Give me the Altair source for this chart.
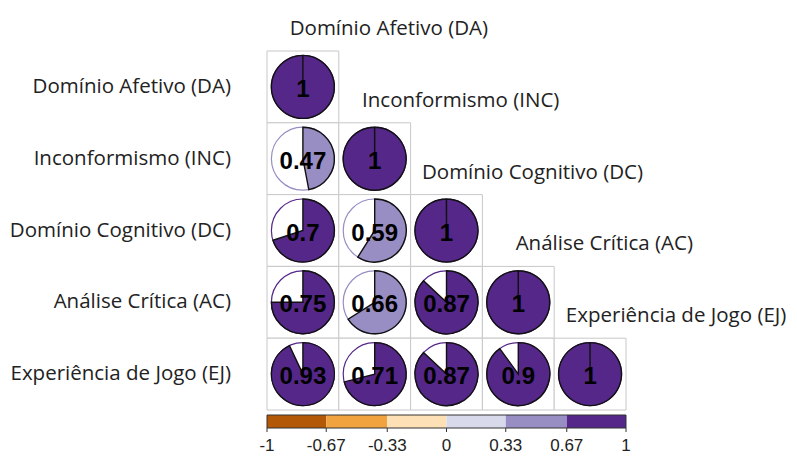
import math
import altair as alt
import pandas as pd

# Variables (rows top-to-bottom, columns left-to-right)
variables = [
    "Domínio Afetivo (DA)",
    "Inconformismo (INC)",
    "Domínio Cognitivo (DC)",
    "Análise Crítica (AC)",
    "Experiência de Jogo (EJ)",
]

# Lower triangle of the correlation matrix, diagonal included
corr_lower = [
    [1],
    [0.47, 1],
    [0.70, 0.59, 1],
    [0.75, 0.66, 0.87, 1],
    [0.93, 0.71, 0.87, 0.90, 1],
]

# Colour bins (PuOr, 6 classes)
bin_breaks = [-1, -0.67, -0.33, 0, 0.33, 0.67, 1]
bin_colors = ["#B35806", "#F1A340", "#FEE0B6", "#D8DAEB", "#998EC3", "#542788"]
bar_labels = ["-1", "-0.67", "-0.33", "0", "0.33", "0.67", "1"]

# ---- layout constants (pixels) ----
CELL = 71.8
N = len(variables)
W = CELL * N
PIE_R = 31.5
LEFT, TOP = 267, 51
WIN_W, WIN_H = 797, 457
LABEL_FONT = "Open Sans"
LABEL_SIZE = 20.5

rows = []
for i, row in enumerate(corr_lower):
    for j, r in enumerate(row):
        rows.append({"row": i, "col": j, "r": r, "lbl": format(r, "g")})
cells = pd.DataFrame(rows)

labels_df = pd.DataFrame({"name": variables, "idx": list(range(N))})

bar_df = pd.DataFrame({"lo": bin_breaks[:-1], "hi": bin_breaks[1:]})
tick_df = pd.DataFrame({"v": bin_breaks, "lbl": bar_labels})

xs = alt.Scale(domain=[0, N], range=[0, W])
ys = alt.Scale(domain=[0, N], range=[0, W])
color_scale = alt.Scale(type="threshold", domain=bin_breaks[1:-1], range=bin_colors)

base = alt.Chart(cells).transform_calculate(
    x0="datum.col", x1="datum.col + 1",
    y0="datum.row", y1="datum.row + 1",
    cx="datum.col + 0.5", cy="datum.row + 0.5",
    t0="0",
    tfull="2 * PI",
    t1="min(datum.r, 0.9995) * 2 * PI",
)

X = alt.X("cx:Q", scale=xs, axis=None)
Y = alt.Y("cy:Q", scale=ys, axis=None)

grid = base.mark_rect(fill="white", stroke="#c8c8c8", strokeWidth=1).encode(
    x=alt.X("x0:Q", scale=xs, axis=None),
    x2="x1:Q",
    y=alt.Y("y0:Q", scale=ys, axis=None),
    y2="y1:Q",
)

pie_bg = base.mark_arc(radius=PIE_R, fill="white", strokeWidth=1.2).encode(
    x=X, y=Y,
    theta=alt.Theta("t0:Q", scale=None, stack=None),
    theta2="tfull:Q",
    stroke=alt.Stroke("r:Q", scale=color_scale, legend=None),
)

pie = base.mark_arc(radius=PIE_R, stroke="#111111", strokeWidth=1.4).encode(
    x=X, y=Y,
    theta=alt.Theta("t0:Q", scale=None, stack=None),
    theta2="t1:Q",
    fill=alt.Fill("r:Q", scale=color_scale, legend=None),
)

values = base.mark_text(
    font="Liberation Sans", fontWeight="bold", fontSize=24,
    color="black", baseline="middle", dy=3,
).encode(x=X, y=Y, text="lbl:N")

lab_base = alt.Chart(labels_df).transform_calculate(c="datum.idx + 0.5")

row_labels = lab_base.mark_text(
    font=LABEL_FONT, fontSize=LABEL_SIZE, color="#222222", align="right", baseline="middle",
).encode(
    x=alt.value(231 - LEFT),
    y=alt.Y("c:Q", scale=ys, axis=None),
    text="name:N",
)

col_labels = lab_base.mark_text(
    font=LABEL_FONT, fontSize=LABEL_SIZE, color="#222222", align="center", baseline="middle",
    dx=86, dy=-58,
).encode(
    x=alt.X("c:Q", scale=xs, axis=None),
    y=alt.Y("c:Q", scale=ys, axis=None),
    text="name:N",
)

# ---- colour bar ----
BAR_TOP, BAR_BOT = 415 - TOP, 428 - TOP
HALF = N / 2

bar = alt.Chart(bar_df).transform_calculate(
    bx0="(datum.lo + 1) * %f" % HALF,
    bx1="(datum.hi + 1) * %f" % HALF,
    mid="(datum.lo + datum.hi) / 2",
).mark_rect().encode(
    x=alt.X("bx0:Q", scale=xs, axis=None),
    x2="bx1:Q",
    y=alt.value(BAR_TOP),
    y2=alt.value(BAR_BOT),
    fill=alt.Fill("mid:Q", scale=color_scale, legend=None),
)

bar_frame = alt.Chart(pd.DataFrame({"a": [-1], "b": [1]})).transform_calculate(
    bx0="(datum.a + 1) * %f" % HALF,
    bx1="(datum.b + 1) * %f" % HALF,
).mark_rect(fill=None, stroke="#333333", strokeWidth=1).encode(
    x=alt.X("bx0:Q", scale=xs, axis=None),
    x2="bx1:Q",
    y=alt.value(BAR_TOP),
    y2=alt.value(BAR_BOT),
)

tick_base = alt.Chart(tick_df).transform_calculate(bx="(datum.v + 1) * %f" % HALF)

ticks = tick_base.mark_rule(color="#333333", strokeWidth=1).encode(
    x=alt.X("bx:Q", scale=xs, axis=None),
    y=alt.value(BAR_BOT),
    y2=alt.value(BAR_BOT + 4),
)

tick_labels = tick_base.mark_text(
    font="Liberation Sans", fontSize=17, color="#222222", align="center", baseline="top",
).encode(
    x=alt.X("bx:Q", scale=xs, axis=None),
    y=alt.value(438 - TOP),
    text="lbl:N",
)

chart = alt.layer(
    grid, pie_bg, pie, values, row_labels, col_labels,
    bar, bar_frame, ticks, tick_labels,
).properties(
    width=W,
    height=W,
    autosize=alt.AutoSizeParams(type="none"),
    padding={"left": LEFT, "top": TOP, "right": WIN_W - LEFT - W, "bottom": WIN_H - TOP - W},
    background="white",
).configure_view(stroke=None)

chart.save("out.html", embed_options={"renderer": "svg", "actions": False})
